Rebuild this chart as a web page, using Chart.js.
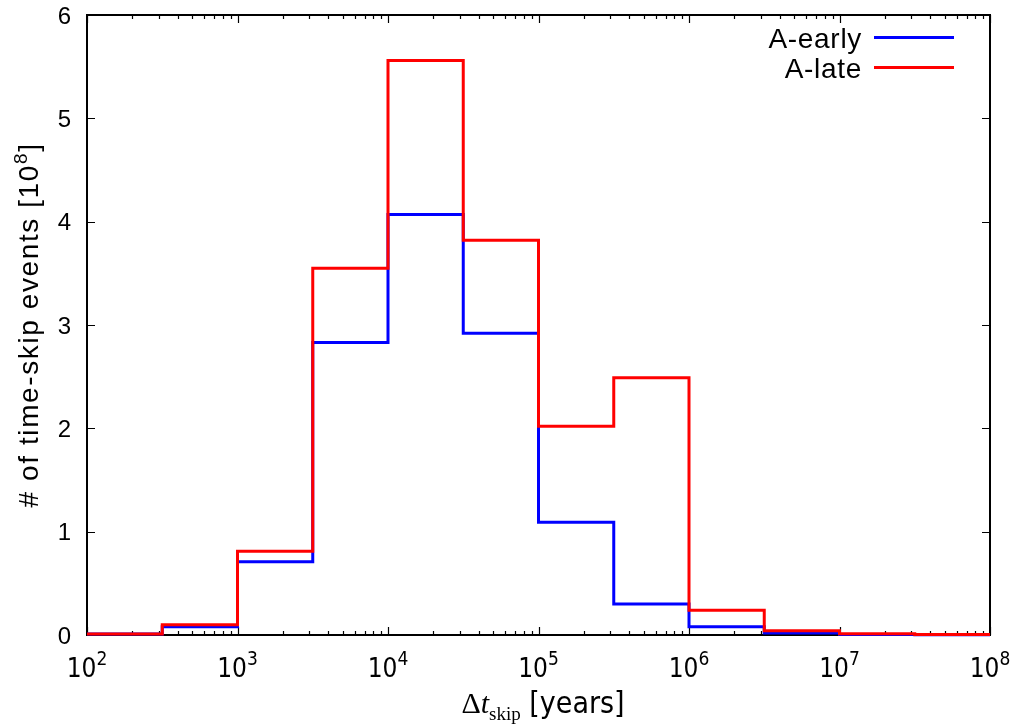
<!DOCTYPE html>
<html>
<head>
<meta charset="utf-8">
<title>Time-skip events</title>
<script src="https://cdn.jsdelivr.net/npm/chart.js@4.4.0/dist/chart.umd.min.js"></script>
<style>
  html, body { margin: 0; padding: 0; background: #fff; }
  #wrap { width: 1016px; height: 728px; }
</style>
</head>
<body>
<div id="wrap"><canvas id="myChart" width="1016" height="728"></canvas></div>
<script>
// half-decade bin edges, as log10(years)
const binEdgeExp = [2, 2.5, 3, 3.5, 4, 4.5, 5, 5.5, 6, 6.5, 7, 7.5, 8];
// events per bin, units of 1e8
const earlyCounts = [0.01, 0.08, 0.71, 2.83, 4.07, 2.92, 1.09, 0.30, 0.08, 0.02, 0.006, 0.003];
const lateCounts = [0.01, 0.10, 0.81, 3.55, 5.56, 3.82, 2.02, 2.49, 0.24, 0.04, 0.012, 0.006];
const seriesNames = ["A-early", "A-late"];
const seriesColors = ["#0000ff", "#ff0000"];
// axis ticks
const xDecades = [2, 3, 4, 5, 6, 7, 8];
const yTicks = [0, 1, 2, 3, 4, 5, 6];

const SANS = '"Liberation Sans", Arial, sans-serif';
const NARROW = '"Liberation Sans Narrow", "DejaVu Sans Condensed", sans-serif';
const SERIF = '"Liberation Serif", "Times New Roman", serif';

// histogram outline: one point per left edge, plus the last right edge
function stepPoints(counts) {
  var pts = counts.map((c, i) => ({ x: Math.pow(10, binEdgeExp[i]), y: c }));
  pts.push({ x: Math.pow(10, binEdgeExp[binEdgeExp.length - 1]), y: counts[counts.length - 1] });
  return pts;
}

// draws a row of [text, font, dy] pieces
function drawParts(ctx, parts, x, y, align, spacing) {
  ctx.letterSpacing = (spacing || 0) + "px";
  var total = 0;
  parts.forEach((p) => { ctx.font = p[1]; total += ctx.measureText(p[0]).width; });
  var cx = x;
  if (align === "center") cx = x - total / 2;
  if (align === "right") cx = x - total;
  ctx.textAlign = "left";
  ctx.textBaseline = "alphabetic";
  parts.forEach((p) => {
    ctx.font = p[1];
    ctx.fillText(p[0], cx, y + (p[2] || 0));
    cx += ctx.measureText(p[0]).width;
  });
  ctx.letterSpacing = "0px";
}

const frameTicks = {
  id: "frameTicks",
  beforeDatasetsDraw(chart) {
    const ctx = chart.ctx, a = chart.chartArea;
    const xs = chart.scales.x, ys = chart.scales.y;
    ctx.save();
    ctx.strokeStyle = "#000";
    ctx.lineWidth = 1.2;
    ctx.beginPath();
    // x ticks, major + minor, bottom and top
    xDecades.forEach((d, i) => {
      for (var m = 1; m <= 9; m++) {
        if (m > 1 && i === xDecades.length - 1) break;
        var px = Math.round(xs.getPixelForValue(m * Math.pow(10, d))) + 0.5;
        var len = m === 1 ? 8 : 4;
        ctx.moveTo(px, a.bottom); ctx.lineTo(px, a.bottom - len);
        ctx.moveTo(px, a.top); ctx.lineTo(px, a.top + len);
      }
    });
    // y ticks, left and right
    yTicks.forEach((v) => {
      var py = Math.round(ys.getPixelForValue(v)) + 0.5;
      ctx.moveTo(a.left, py); ctx.lineTo(a.left + 8, py);
      ctx.moveTo(a.right, py); ctx.lineTo(a.right - 8, py);
    });
    ctx.stroke();
    ctx.lineWidth = 2;
    ctx.strokeRect(a.left, a.top, a.right - a.left, a.bottom - a.top);
    ctx.restore();
  },
  afterDraw(chart) {
    const ctx = chart.ctx, a = chart.chartArea;
    const xs = chart.scales.x, ys = chart.scales.y;
    ctx.save();
    ctx.fillStyle = "#000";

    // y tick labels
    ctx.font = "24px " + SANS;
    ctx.textAlign = "right";
    ctx.textBaseline = "alphabetic";
    yTicks.forEach((v) => {
      ctx.fillText(String(v), 71, ys.getPixelForValue(v) + 8.5);
    });

    // x tick labels 10^n
    xDecades.forEach((d) => {
      drawParts(ctx, [["10", "26px " + NARROW], [String(d), "19px " + NARROW, -12]],
        xs.getPixelForValue(Math.pow(10, d)), 677, "center");
    });

    // x title
    drawParts(ctx, [
      ["\u0394", "30px " + SERIF],
      ["t", "italic 30px " + SERIF],
      ["skip", "19px " + SERIF, 7],
      [" [years]", "30px " + NARROW]
    ], 543, 713, "center");

    // y title, rotated
    ctx.save();
    ctx.translate(38, (a.top + a.bottom) / 2);
    ctx.rotate(-Math.PI / 2);
    drawParts(ctx, [
      ["# of time-skip events [10", "28px " + SANS],
      ["8", "19px " + SANS, -11],
      ["]", "28px " + SANS]
    ], 0, 0, "center", 1.6);
    ctx.restore();

    // key, top right
    seriesNames.forEach((name, i) => {
      var ly = 37.5 + i * 30;
      drawParts(ctx, [[name, "28px " + SANS]], 862, ly + 10, "right", 0.7);
      ctx.strokeStyle = seriesColors[i];
      ctx.lineWidth = 3;
      ctx.beginPath();
      ctx.moveTo(874, ly); ctx.lineTo(954, ly);
      ctx.stroke();
    });
    ctx.restore();
  }
};

function makeDataset(i, counts) {
  return {
    label: seriesNames[i],
    data: stepPoints(counts),
    borderColor: seriesColors[i],
    backgroundColor: seriesColors[i],
    borderWidth: 3,
    stepped: "before",
    pointRadius: 0,
    fill: false,
    clip: 6,
    order: i === 1 ? 0 : 1
  };
}

var ctx = document.getElementById("myChart").getContext("2d");
var myChart = new Chart(ctx, {
  type: "line",
  data: {
    datasets: [makeDataset(0, earlyCounts), makeDataset(1, lateCounts)]
  },
  options: {
    responsive: false,
    animation: false,
    layout: { padding: { top: 15, right: 26, left: 0, bottom: 0 } },
    plugins: { legend: { display: false }, tooltip: { enabled: false } },
    scales: {
      x: {
        type: "logarithmic",
        min: Math.pow(10, xDecades[0]),
        max: Math.pow(10, xDecades[xDecades.length - 1]),
        ticks: { display: false },
        grid: { display: false },
        border: { display: false },
        afterFit: (scale) => { scale.height = 93; }
      },
      y: {
        type: "linear",
        min: yTicks[0],
        max: yTicks[yTicks.length - 1],
        ticks: { display: false, stepSize: 1 },
        grid: { display: false },
        border: { display: false },
        afterFit: (scale) => { scale.width = 87; }
      }
    }
  },
  plugins: [frameTicks]
});
</script>
</body>
</html>
